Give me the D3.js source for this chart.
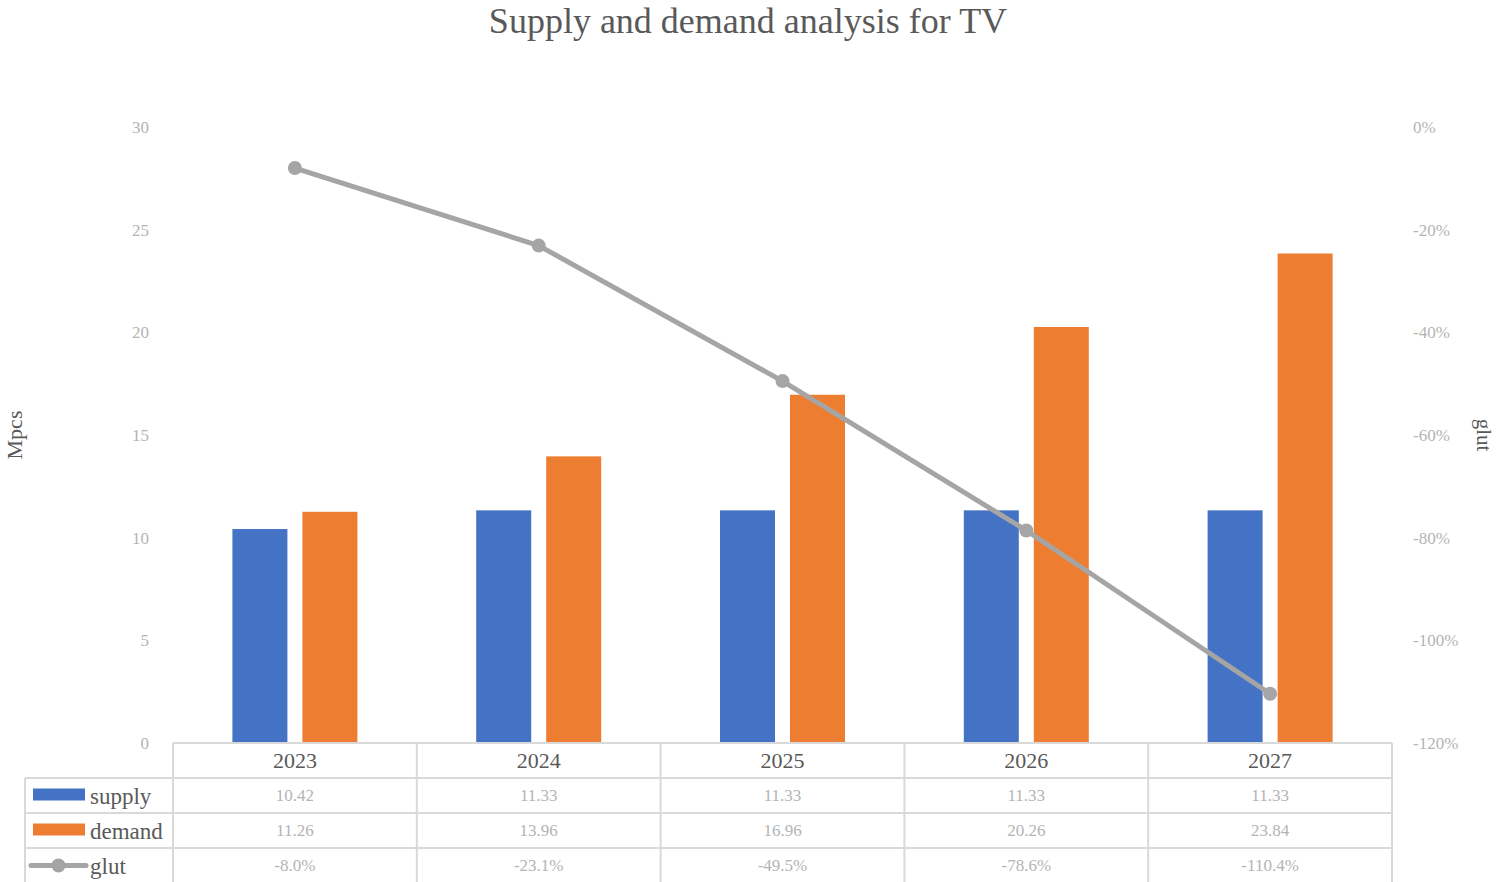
<!DOCTYPE html>
<html>
<head>
<meta charset="utf-8">
<script src="https://cdn.jsdelivr.net/npm/d3@7"></script>
<style>
  body { margin: 0; background: #fff; }
  text { font-family: "Liberation Serif", "DejaVu Serif", serif; }
</style>
</head>
<body>
<svg id="chart" width="1497" height="882"></svg>
<script>
// 数据
const years = ['2023', '2024', '2025', '2026', '2027']
const supply = [10.42, 11.33, 11.33, 11.33, 11.33]
const demand = [11.26, 13.96, 16.96, 20.26, 23.84]
const glut = [-8.0, -23.1, -49.5, -78.6, -110.4]
const leftTicks = [0, 5, 10, 15, 20, 25, 30]
const rightTicks = [0, -20, -40, -60, -80, -100, -120]

const colors = {supply: '#4472c4', demand: '#ed7d31', glut: '#a5a5a5'}
const gridColor = '#d9d9d9'
const faint = '#b4b4b4'

const svg = d3.select('#chart')

// 绘图区
const plot = {left: 173, right: 1392, top: 127, bottom: 743}
const rowH = 35

const x = d3.scaleBand().domain(years).range([plot.left, plot.right])
const yL = d3.scaleLinear().domain([0, 30]).range([plot.bottom, plot.top])
const yR = d3.scaleLinear().domain([-120, 0]).range([plot.bottom, plot.top])

const barW = 55
const gap = 15

// 标题
svg.append('text')
  .attr('x', 748).attr('y', 33)
  .attr('text-anchor', 'middle')
  .attr('font-size', 36)
  .attr('fill', '#595959')
  .text('Supply and demand analysis for TV')

// 左轴刻度
svg.append('g').selectAll('text')
  .data(leftTicks)
  .join('text')
  .attr('x', 149).attr('y', (d) => yL(d))
  .attr('dy', '0.35em')
  .attr('text-anchor', 'end')
  .attr('font-size', 17)
  .attr('fill', faint)
  .text((d) => d)

// 右轴刻度
svg.append('g').selectAll('text')
  .data(rightTicks)
  .join('text')
  .attr('x', 1413).attr('y', (d) => yR(d))
  .attr('dy', '0.35em')
  .attr('text-anchor', 'start')
  .attr('font-size', 17)
  .attr('fill', faint)
  .text((d) => d + '%')

// 轴标题
svg.append('text')
  .attr('transform', `translate(22, ${(plot.top + plot.bottom) / 2}) rotate(-90)`)
  .attr('text-anchor', 'middle')
  .attr('font-size', 22)
  .attr('fill', '#595959')
  .text('Mpcs')

svg.append('text')
  .attr('transform', `translate(1477, ${(plot.top + plot.bottom) / 2}) rotate(90)`)
  .attr('text-anchor', 'middle')
  .attr('font-size', 21)
  .attr('fill', '#595959')
  .text('glut')

// 柱子
const groups = svg.append('g').selectAll('g')
  .data(years)
  .join('g')
  .attr('transform', (d) => `translate(${x(d) + x.bandwidth() / 2}, 0)`)

groups.append('rect')
  .attr('x', -gap / 2 - barW)
  .attr('width', barW)
  .attr('y', (d, i) => yL(supply[i]))
  .attr('height', (d, i) => yL(0) - yL(supply[i]))
  .attr('fill', colors.supply)

groups.append('rect')
  .attr('x', gap / 2)
  .attr('width', barW)
  .attr('y', (d, i) => yL(demand[i]))
  .attr('height', (d, i) => yL(0) - yL(demand[i]))
  .attr('fill', colors.demand)

// 折线
const line = d3.line()
  .x((d, i) => x(years[i]) + x.bandwidth() / 2)
  .y((d) => yR(d))

svg.append('path')
  .datum(glut)
  .attr('d', line)
  .attr('fill', 'none')
  .attr('stroke', colors.glut)
  .attr('stroke-width', 5)
  .attr('stroke-linejoin', 'round')

svg.append('g').selectAll('circle')
  .data(glut)
  .join('circle')
  .attr('cx', (d, i) => x(years[i]) + x.bandwidth() / 2)
  .attr('cy', (d) => yR(d))
  .attr('r', 7)
  .attr('fill', colors.glut)

// 数据表
const table = svg.append('g').attr('stroke', gridColor).attr('stroke-width', 2).attr('fill', 'none')
const tableBottom = plot.bottom + rowH * 4
// 横线
table.append('line').attr('x1', plot.left).attr('x2', plot.right).attr('y1', plot.bottom).attr('y2', plot.bottom)
d3.range(1, 4).forEach((r) => {
  table.append('line')
    .attr('x1', 25).attr('x2', plot.right)
    .attr('y1', plot.bottom + rowH * r).attr('y2', plot.bottom + rowH * r)
})
// 竖线
x.domain().concat(['end']).forEach((d, i) => {
  const xx = plot.left + i * x.bandwidth()
  table.append('line').attr('x1', xx).attr('x2', xx).attr('y1', plot.bottom).attr('y2', tableBottom)
})
table.append('line').attr('x1', 25).attr('x2', 25).attr('y1', plot.bottom + rowH).attr('y2', tableBottom)

// 年份
svg.append('g').selectAll('text')
  .data(years)
  .join('text')
  .attr('x', (d) => x(d) + x.bandwidth() / 2)
  .attr('y', plot.bottom + rowH / 2)
  .attr('dy', '0.35em')
  .attr('text-anchor', 'middle')
  .attr('font-size', 22)
  .attr('fill', '#595959')
  .text((d) => d)

// 表格数值
const rows = [
  {key: 'supply', values: supply.map((v) => v.toFixed(2))},
  {key: 'demand', values: demand.map((v) => v.toFixed(2))},
  {key: 'glut', values: glut.map((v) => v.toFixed(1) + '%')},
]

rows.forEach((row, r) => {
  const cy = plot.bottom + rowH * (r + 1) + rowH / 2
  svg.append('g').selectAll('text')
    .data(row.values)
    .join('text')
    .attr('x', (d, i) => x(years[i]) + x.bandwidth() / 2)
    .attr('y', cy)
    .attr('dy', '0.35em')
    .attr('text-anchor', 'middle')
    .attr('font-size', 17)
    .attr('fill', faint)
    .text((d) => d)

  // 图例
  const lg = svg.append('g').attr('transform', `translate(0, ${cy})`)
  if (row.key === 'glut') {
    lg.append('line').attr('x1', 31).attr('x2', 86).attr('y1', 0).attr('y2', 0)
      .attr('stroke', colors.glut).attr('stroke-width', 5).attr('stroke-linecap', 'round')
    lg.append('circle').attr('cx', 58.5).attr('cy', 0).attr('r', 7).attr('fill', colors.glut)
  } else {
    lg.append('rect').attr('x', 33).attr('y', -7).attr('width', 52).attr('height', 12).attr('fill', colors[row.key])
  }
  lg.append('text')
    .attr('x', 90).attr('y', 0).attr('dy', '0.35em')
    .attr('font-size', 23)
    .attr('fill', '#595959')
    .text(row.key)
})
</script>
</body>
</html>
